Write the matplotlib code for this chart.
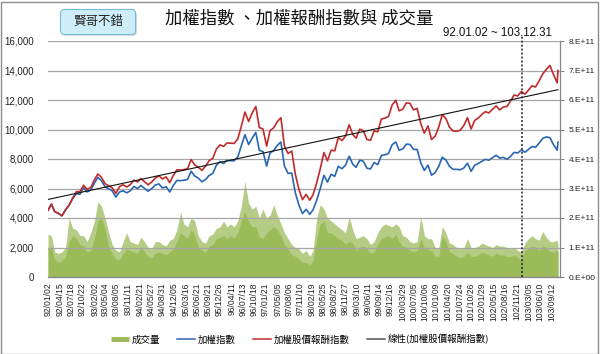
import numpy as np
import pandas as pd
import matplotlib
matplotlib.use('Agg')
import matplotlib.pyplot as plt
import matplotlib.dates as mdates
from matplotlib.patches import FancyBboxPatch, Rectangle
from matplotlib.lines import Line2D
from matplotlib.ticker import FuncFormatter
from matplotlib.transforms import IdentityTransform

CJK = ['Noto Sans CJK TC', 'DejaVu Sans']
LAT = ['Liberation Sans', 'DejaVu Sans']

# ---------------- data (monthly samples) ----------------
start_date = '2003-01-02'
end_date = '2014-11-07'
marker_date = '2014-01-02'

taiex = [4525,
         4941, 4430, 4321, 4148, 4556, 4872, 5318, 5650, 5611, 6045, 5771, 5891,
         6375, 6750, 6522, 6117, 5978, 5840, 5420, 5765, 5845, 5705, 5845, 6140,
         5994, 6208, 6006, 5818, 5989, 6241, 6311, 6033, 6118, 5764, 6203, 6548,
         6532, 6561, 6613, 7171, 6846, 6704, 6454, 6611, 6884, 7021, 7567, 7823,
         7699, 7901, 7884, 7875, 8145, 8883, 9650, 8982, 9411, 9800, 8586, 8506,
         7521, 8412, 8572, 8920, 9150, 7523, 7024, 7046, 5719, 4870, 4300, 4591,
         4248, 4557, 5210, 5992, 6890, 6432, 6958, 6826, 7509, 7340, 7582, 8188,
         7640, 7436, 7920, 7850, 7374, 7329, 7760, 7616, 8238, 8287, 8372, 8972,
         9145, 8600, 8683, 9008, 8989, 8653, 8644, 7741, 7225, 7587, 6904, 7072,
         7517, 8121, 7933, 7502, 7301, 7296, 7270, 7397, 7715, 7166, 7580, 7700,
         7850, 7977, 7919, 8093, 8254, 8062, 8108, 7978, 8174, 8450, 8407, 8612,
         8462, 8640, 8849, 8792, 9076, 9393, 9500, 9437, 8967, 8600,
         9150]

total_return = [4525,
                4941, 4430, 4321, 4148, 4556, 4872, 5366, 5786, 5779, 6226, 5944, 6068,
                6598, 6986, 6750, 6331, 6187, 6044, 5667, 6128, 6254, 6104, 6254, 6570,
                6444, 6674, 6456, 6254, 6438, 6709, 6851, 6654, 6791, 6398, 6885, 7268,
                7251, 7283, 7340, 7960, 7599, 7441, 7232, 7523, 7882, 8039, 8664, 8957,
                8854, 9086, 9067, 9056, 9367, 10215, 11184, 10545, 11105, 11564, 10131, 10037,
                8875, 9926, 10115, 10526, 10797, 8877, 8373, 8540, 6977, 5941, 5246, 5601,
                5204, 5582, 6382, 7340, 8440, 7879, 8597, 8553, 9461, 9248, 9553, 10317,
                9665, 9407, 10019, 9930, 9328, 9271, 9898, 9847, 10709, 10773, 10884, 11664,
                11980, 11266, 11375, 11800, 11776, 11335, 11427, 10388, 9754, 10242, 9320, 9547,
                10186, 11004, 10749, 10165, 9893, 9886, 9949, 10289, 10801, 10032, 10612, 10780,
                11029, 11208, 11126, 11371, 11597, 11327, 11526, 11560, 11934, 12337, 12274, 12574,
                12397, 12658, 12964, 12880, 13296, 13761, 14074, 14344, 13720, 13158,
                14000]

# turnover, in units of 1E+11: typical level and spike tops
vol_body_e11 = [1.0,
                1.0, 0.6, 0.5, 0.55, 0.7, 1.2, 1.4, 1.3, 1.1, 1.05, 0.85, 0.9,
                1.3, 1.9, 2.0, 1.6, 1.0, 0.8, 0.6, 0.6, 0.8, 0.95, 0.9, 0.85,
                0.8, 1.0, 0.85, 0.7, 0.65, 0.8, 0.85, 0.8, 0.75, 0.85, 0.95, 1.2,
                1.5, 1.4, 1.3, 1.6, 1.4, 1.0, 0.9, 0.85, 1.05, 1.1, 1.3, 1.35,
                1.4, 1.3, 1.4, 1.3, 1.5, 1.9, 2.2, 1.9, 1.7, 1.7, 1.35, 1.3,
                1.5, 1.6, 1.7, 1.6, 1.4, 1.1, 0.95, 0.75, 0.7, 0.6, 0.5, 0.5,
                0.4, 0.55, 1.3, 1.8, 1.9, 1.5, 1.5, 1.4, 1.3, 1.25, 1.1, 1.2,
                1.15, 0.9, 1.0, 1.05, 0.95, 0.8, 0.85, 1.1, 1.3, 1.35, 1.4, 1.3,
                1.45, 1.2, 1.05, 1.0, 0.9, 0.85, 0.9, 1.3, 1.0, 0.95, 0.9, 0.7,
                0.7, 1.4, 1.2, 0.85, 0.8, 0.7, 0.65, 0.7, 0.85, 0.7, 0.7, 0.75,
                0.85, 0.8, 0.75, 0.7, 0.8, 0.75, 0.75, 0.7, 0.7, 0.75, 0.65, 0.6,
                0.9, 0.95, 1.05, 1.0, 0.9, 1.05, 1.0, 0.85, 0.85, 0.9,
                0.85]

vol_peak_e11 = [1.45,
                1.4, 0.85, 0.8, 0.85, 1.0, 2.0, 1.65, 1.6, 1.4, 1.4, 1.2, 1.5,
                1.9, 2.55, 2.4, 2.0, 1.5, 1.1, 0.9, 0.85, 1.2, 1.5, 1.2, 1.15,
                1.1, 1.35, 1.2, 1.0, 0.95, 1.2, 1.2, 1.1, 1.05, 1.25, 1.3, 1.6,
                2.2, 1.8, 1.7, 2.0, 1.9, 1.4, 1.2, 1.15, 1.4, 1.45, 1.65, 1.7,
                1.9, 1.7, 1.8, 1.7, 1.9, 2.4, 3.24, 2.5, 2.3, 2.4, 2.0, 2.3,
                2.0, 2.1, 2.45, 2.1, 1.8, 1.5, 1.3, 1.1, 1.0, 0.95, 0.8, 0.9,
                0.7, 0.9, 2.0, 2.45, 2.3, 2.0, 1.9, 1.8, 1.7, 1.6, 1.5, 2.05,
                1.6, 1.3, 1.35, 1.4, 1.3, 1.1, 1.2, 1.5, 1.7, 1.8, 1.75, 1.7,
                1.8, 1.7, 1.4, 1.35, 1.2, 1.15, 1.2, 2.05, 1.4, 1.3, 1.3, 1.0,
                1.0, 1.71, 1.5, 1.15, 1.1, 1.0, 0.95, 1.0, 1.3, 1.0, 1.0, 1.05,
                1.15, 1.1, 1.05, 1.0, 1.1, 1.05, 1.05, 1.0, 0.95, 1.0, 0.9, 0.85,
                1.15, 1.3, 1.4, 1.3, 1.25, 1.54, 1.35, 1.2, 1.2, 1.25,
                1.1]

tick_labels = ['92/01/02', '92/04/15', '92/07/18', '92/10/22', '93/02/02', '93/05/04',
               '93/08/05', '93/11/11', '94/02/21', '94/05/27', '94/08/31', '94/12/05',
               '95/03/16', '95/06/21', '95/09/21', '95/12/26', '96/04/11', '96/07/13',
               '96/10/18', '97/01/21', '97/05/05', '97/08/06', '97/11/10', '98/02/19',
               '98/05/25', '98/08/27', '98/11/27', '99/03/10', '99/06/11', '99/09/14',
               '99/12/16', '100/03/29', '100/07/05', '100/10/06', '101/01/09', '101/04/20',
               '101/07/24', '101/10/26', '102/01/29', '102/05/15', '102/08/16', '102/11/21',
               '103/03/05', '103/06/10', '103/09/12']

title = '加權指數 、加權報酬指數與 成交量'
period_text = '92.01.02 ~ 103.12.31'
badge_text = '賢哥不錯'
labels = ['成交量', '加權指數', '加權股價報酬指數', '線性(加權股價報酬指數)']

# ---------------- derived ----------------
month_ends = pd.date_range('2003-01-31', '2014-10-31', freq=pd.offsets.MonthEnd())
dates = pd.DatetimeIndex([pd.Timestamp(start_date)] + list(month_ends) + [pd.Timestamp(end_date)])
vol_body = np.array(vol_body_e11) * 1e11
vol_peak = np.array(vol_peak_e11) * 1e11


def roc_to_date(s):
    y, m, d = s.split('/')
    return pd.Timestamp(int(y) + 1911, int(m), int(d))


tick_dates = [roc_to_date(s) for s in tick_labels]

GREEN = '#9BBB59'
LIGHT_GREEN = '#B4CC84'
BLUE = '#2A66B2'
RED = '#BF2B2B'
GRID = '#A6A6A6'
AXIS = '#868686'

W, H = 600, 354
fig = plt.figure(figsize=(W / 100, H / 100), dpi=100)
fig.patch.set_facecolor('white')


def fx(px):
    return px / W


def fy(py):
    return 1 - py / H


ax = fig.add_axes([fx(48), fy(277), fx(560) - fx(48), fy(41) - fy(277)])
ax2 = ax.twinx()
ax.set_zorder(ax2.get_zorder() + 1)
ax.patch.set_visible(False)

# volume
ax2.fill_between(dates, 0, vol_peak, color=LIGHT_GREEN, lw=0)
ax2.fill_between(dates, 0, vol_body, color=GREEN, lw=0)
ax2.set_ylim(0, 8e11)
ax2.set_yticks(np.arange(0, 8.01e11, 1e11))
ax2.yaxis.set_major_formatter(FuncFormatter(
    lambda v, _: '0.E+00' if v == 0 else f'{v / 1e11:.0f}.E+11'))
ax2.tick_params(axis='y', length=3, color=AXIS, pad=3, labelsize=6, labelcolor='#222222')
for lab in ax2.get_yticklabels():
    lab.set_family(LAT)
for s in ['top', 'left', 'bottom']:
    ax2.spines[s].set_visible(False)
ax2.spines['right'].set_color(AXIS)
ax2.spines['right'].set_linewidth(0.9)

# index lines
ax.plot(dates, taiex, color=BLUE, lw=1.2, zorder=3)
ax.plot(dates, total_return, color=RED, lw=1.2, zorder=4)
xnum = mdates.date2num(dates)
coef = np.polyfit(xnum, total_return, 1)
ends = np.array([xnum[0], xnum[-1]])
ax.plot(mdates.num2date(ends), np.polyval(coef, ends), color='#111111', lw=0.8, zorder=5)

ax.axvline(pd.Timestamp(marker_date), ymin=0, ymax=1.022, color='#222222',
           ls=(0, (1.3, 1.3)), lw=1.1, clip_on=False, zorder=6)

ax.set_ylim(0, 16000)
ax.set_yticks(np.arange(0, 16001, 2000))
ax.yaxis.set_major_formatter(FuncFormatter(lambda v, _: f'{v:,.0f}'))
ax.tick_params(axis='y', length=0, pad=10, labelsize=7, labelcolor='#222222')
for lab in ax.get_yticklabels():
    lab.set_family(LAT)
ax.yaxis.grid(True, color=GRID, lw=0.9)
ax.set_axisbelow(True)

ax.set_xlim(dates[0], dates[-1] + pd.Timedelta(days=17))
ax.set_xticks(tick_dates)
ax.set_xticklabels(tick_labels, rotation=90, fontsize=6.2, family=LAT, color='#222222')
ax.tick_params(axis='x', length=0, pad=4)
for s in ['top', 'left', 'right']:
    ax.spines[s].set_visible(False)
ax.spines['bottom'].set_color(AXIS)
ax.spines['bottom'].set_linewidth(0.9)

# title and annotations
fig.text(fx(299), fy(18.5), title, ha='center', va='center', fontsize=12.5,
         family=CJK, color='#111111')
fig.text(fx(552), fy(33.5), period_text, ha='right', va='center', fontsize=8.3,
         family=LAT, color='#111111')

# badge
shadow = FancyBboxPatch((62, H - 36), 75, 25, boxstyle='round,pad=0,rounding_size=4',
                        transform=IdentityTransform(), facecolor='#9A9A9A', edgecolor='none',
                        alpha=0.35)
badge = FancyBboxPatch((60.5, H - 34.5), 75, 25, boxstyle='round,pad=0,rounding_size=4',
                       transform=IdentityTransform(), facecolor='#CDEEF9', edgecolor='#79BBD6',
                       lw=0.8)
fig.patches.extend([shadow, badge])
fig.text(fx(98), fy(22), badge_text, ha='center', va='center', fontsize=9,
         family=CJK, color='#222222')

# legend
handles = [Line2D([], [], color=GREEN, lw=3.5, solid_capstyle='butt'),
           Line2D([], [], color=BLUE, lw=1.1),
           Line2D([], [], color=RED, lw=1.1),
           Line2D([], [], color='#555555', lw=1.1)]
fig.legend(handles, labels, loc='center', bbox_to_anchor=(fx(300), fy(339.5)), ncol=4,
           frameon=False, prop={'family': CJK, 'size': 6.8}, handlelength=1.9,
           handletextpad=0.3, columnspacing=1.8)

# outer border
fig.patches.append(Rectangle((0.5, 0.5), W - 2.5, H - 2, transform=IdentityTransform(),
                             fill=False, edgecolor='#8C8C8C', lw=1.0))

fig.savefig('out.png', dpi=100, facecolor='white')
